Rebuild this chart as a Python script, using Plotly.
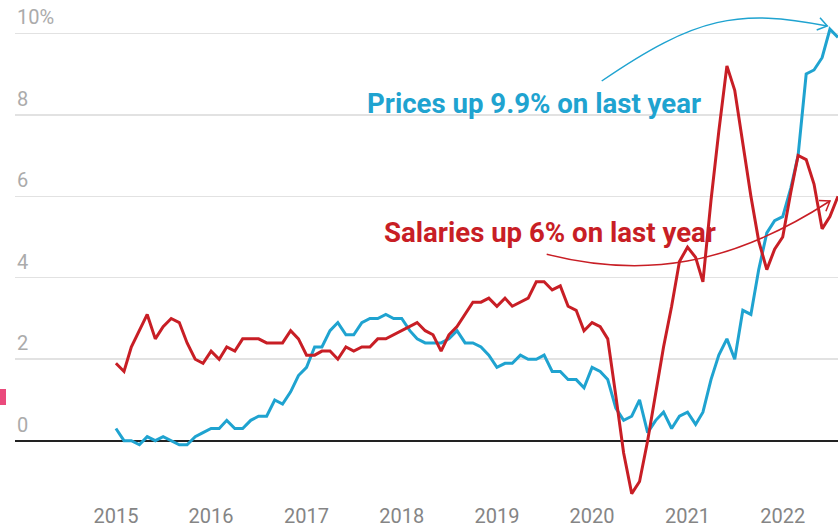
import plotly.graph_objects as go
import pandas as pd

# ---- data ----
months = pd.date_range("2015-01-01", "2022-08-01", freq="MS")

prices = [
    0.3, 0.0, 0.0, -0.1, 0.1, 0.0, 0.1, 0.0, -0.1, -0.1, 0.1, 0.2,
    0.3, 0.3, 0.5, 0.3, 0.3, 0.5, 0.6, 0.6, 1.0, 0.9, 1.2, 1.6,
    1.8, 2.3, 2.3, 2.7, 2.9, 2.6, 2.6, 2.9, 3.0, 3.0, 3.1, 3.0,
    3.0, 2.7, 2.5, 2.4, 2.4, 2.4, 2.5, 2.7, 2.4, 2.4, 2.3, 2.1,
    1.8, 1.9, 1.9, 2.1, 2.0, 2.0, 2.1, 1.7, 1.7, 1.5, 1.5, 1.3,
    1.8, 1.7, 1.5, 0.8, 0.5, 0.6, 1.0, 0.2, 0.5, 0.7, 0.3, 0.6,
    0.7, 0.4, 0.7, 1.5, 2.1, 2.5, 2.0, 3.2, 3.1, 4.2, 5.1, 5.4,
    5.5, 6.2, 7.0, 9.0, 9.1, 9.4, 10.1, 9.9,
]

salaries = [
    1.9, 1.7, 2.3, 2.7, 3.1, 2.5, 2.8, 3.0, 2.9, 2.4, 2.0, 1.9,
    2.2, 2.0, 2.3, 2.2, 2.5, 2.5, 2.5, 2.4, 2.4, 2.4, 2.7, 2.5,
    2.1, 2.1, 2.2, 2.2, 2.0, 2.3, 2.2, 2.3, 2.3, 2.5, 2.5, 2.6,
    2.7, 2.8, 2.9, 2.7, 2.6, 2.2, 2.6, 2.8, 3.1, 3.4, 3.4, 3.5,
    3.3, 3.5, 3.3, 3.4, 3.5, 3.9, 3.9, 3.7, 3.8, 3.3, 3.2, 2.7,
    2.9, 2.8, 2.5, 1.1, -0.3, -1.3, -1.0, 0.0, 1.15, 2.3, 3.3, 4.4,
    4.75, 4.5, 3.9, 5.9, 7.6, 9.2, 8.6, 7.3, 6.0, 4.9, 4.2, 4.7,
    5.0, 6.1, 7.0, 6.9, 6.3, 5.2, 5.5, 6.0,
]

x_tick_vals = ["2015-01-01", "2016-01-01", "2017-01-01", "2018-01-01",
               "2019-01-01", "2020-01-01", "2021-01-01", "2022-01-01"]
x_tick_text = ["2015", "2016", "2017", "2018", "2019", "2020", "2021", "2022"]
y_tick_vals = [10, 8, 6, 4, 2, 0]
y_tick_text = ["10%", "8", "6", "4", "2", "0"]

BLUE = "#1fa3d0"
RED = "#c81e25"
FONT = "Roboto"

W, H = 838, 525
ML, MR, MT, MB = 15, 0, 10, 25
PW, PH = W - ML - MR, H - MT - MB


def px(v):
    return (v - ML) / PW


def py(v):
    return (H - MB - v) / PH


fig = go.Figure()
fig.add_trace(go.Scatter(x=months, y=prices, mode="lines",
                         line=dict(color=BLUE, width=3), hoverinfo="skip"))
fig.add_trace(go.Scatter(x=months, y=salaries, mode="lines",
                         line=dict(color=RED, width=3), hoverinfo="skip"))

annotations = []
for v, t in zip(y_tick_vals, y_tick_text):
    annotations.append(dict(x=0, xref="paper", y=v, yref="y", text=t,
                            showarrow=False, xanchor="left", yanchor="middle",
                            xshift=0, yshift=16,
                            font=dict(family=FONT, size=20, color="#ababab")))

annotations.append(dict(x=px(533.5), y=py(104), xref="paper", yref="paper",
                        text="Prices up 9.9% on last year", showarrow=False,
                        xanchor="center", yanchor="middle",
                        font=dict(family=FONT, size=27.6, color=BLUE, weight="bold")))
annotations.append(dict(x=px(549.5), y=py(232), xref="paper", yref="paper",
                        text="Salaries up 6% on last year", showarrow=False,
                        xanchor="center", yanchor="middle",
                        font=dict(family=FONT, size=27.6, color=RED, weight="bold")))


def P(x, y):
    return f"{px(x):.5f},{py(y):.5f}"


shapes = [
    dict(type="path", xref="paper", yref="paper",
         path=f"M {P(601.7, 81)} C {P(696.6, 16)} {P(739, 8.7)} {P(827.3, 26)}",
         line=dict(color=BLUE, width=1.5)),
    dict(type="path", xref="paper", yref="paper",
         path=f"M {P(820, 17.7)} L {P(827.3, 26)} L {P(816.7, 30)}",
         line=dict(color=BLUE, width=1.5)),
    dict(type="path", xref="paper", yref="paper",
         path=f"M {P(546.7, 254.3)} C {P(643.7, 278.8)} {P(730.2, 265.7)} {P(830, 201)}",
         line=dict(color=RED, width=1.5)),
    dict(type="path", xref="paper", yref="paper",
         path=f"M {P(819, 200.6)} L {P(830, 201)} L {P(825.9, 211.2)}",
         line=dict(color=RED, width=1.5)),
    dict(type="rect", xref="paper", yref="paper",
         x0=px(0), x1=px(6), y0=py(405), y1=py(389),
         fillcolor="#ea4a7c", line=dict(width=0)),
]

fig.update_layout(
    width=W, height=H,
    margin=dict(l=ML, r=MR, t=MT, b=MB),
    paper_bgcolor="white", plot_bgcolor="white",
    showlegend=False,
    font=dict(family=FONT),
    annotations=annotations,
    shapes=shapes,
    xaxis=dict(
        type="date",
        range=["2013-12-10", "2022-08-01"],
        tickmode="array", tickvals=x_tick_vals, ticktext=x_tick_text,
        tickfont=dict(family=FONT, size=20, color="#858585"),
        ticklabelstandoff=2, automargin=False,
        showgrid=False, zeroline=False, showline=False, ticks="",
        fixedrange=True,
    ),
    yaxis=dict(
        range=[-(H - MB - 440.7) / 40.74, (440.7 - MT) / 40.74],
        tickmode="array", tickvals=y_tick_vals, showticklabels=False,
        showgrid=True, gridcolor="#e2e2e2", gridwidth=1.5,
        zeroline=True, zerolinecolor="#222222", zerolinewidth=1.8,
        showline=False, ticks="", fixedrange=True, automargin=False,
    ),
)

fig.write_html(
    "out.html",
    config={"displayModeBar": False, "staticPlot": True},
    post_script="document.body.style.margin='0';document.body.style.overflow='hidden';",
)
